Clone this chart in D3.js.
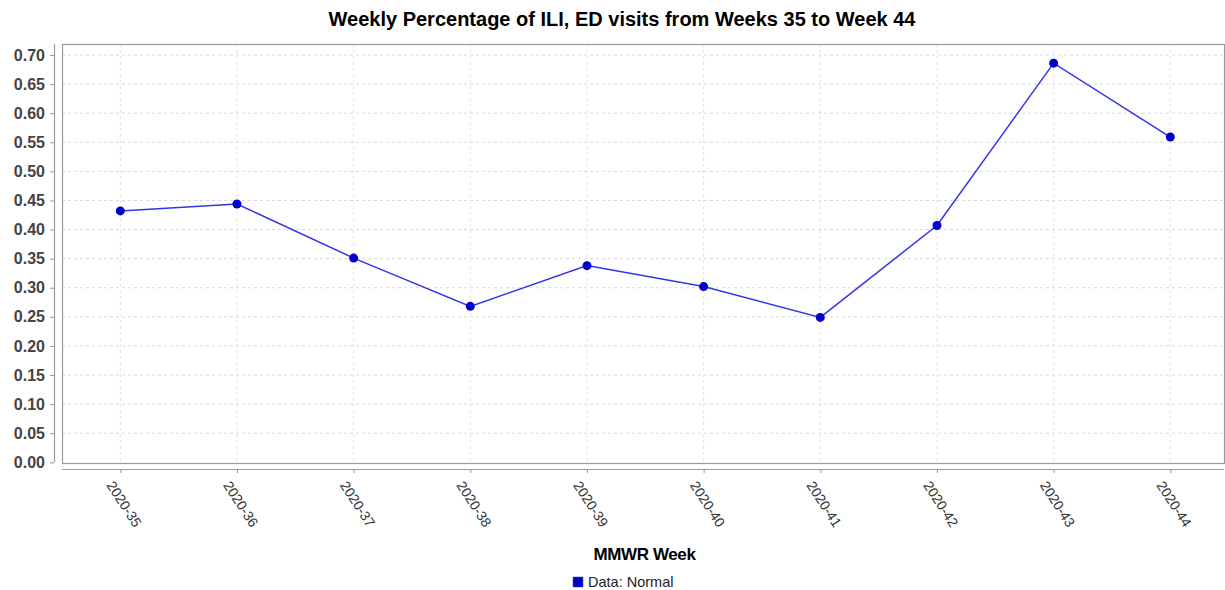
<!DOCTYPE html>
<html>
<head>
<meta charset="utf-8">
<script src="https://cdn.jsdelivr.net/npm/d3@7"></script>
<style>
  html, body { margin: 0; padding: 0; background: #fff; }
  svg { display: block; }
</style>
</head>
<body>
<svg id="chart" width="1225" height="590"></svg>
<script>
const title = "Weekly Percentage of ILI, ED visits from Weeks 35 to Week 44";
const xAxisTitle = "MMWR Week";
const legendLabel = "Data: Normal";
const weeks = ["2020-35","2020-36","2020-37","2020-38","2020-39","2020-40","2020-41","2020-42","2020-43","2020-44"];
const values = [0.432, 0.444, 0.351, 0.268, 0.338, 0.302, 0.249, 0.407, 0.686, 0.559];
const yTicks = [0.00,0.05,0.10,0.15,0.20,0.25,0.30,0.35,0.40,0.45,0.50,0.55,0.60,0.65,0.70];

const svg = d3.select("#chart");
const plot = {left: 62, right: 1224, top: 44, bottom: 463};

const x = d3.scalePoint().domain(weeks).range([120.3, 1170.3]);
const y = d3.scaleLinear().domain([0, 0.70]).range([462.3, 55]);

const font = "'Liberation Sans', Arial, sans-serif";

// Title
svg.append("text")
  .attr("x", 622).attr("y", 26)
  .attr("text-anchor", "middle")
  .style("font-family", font).style("font-weight", "bold").style("font-size", "20px")
  .attr("fill", "#000")
  .text(title);

// Grid lines
const grid = svg.append("g");
grid.selectAll("line.h").data(yTicks.slice(1)).join("line")
  .attr("x1", plot.left).attr("x2", plot.right)
  .attr("y1", d => y(d)).attr("y2", d => y(d))
  .attr("stroke", "#d8d8d8").attr("stroke-width", 1).attr("stroke-dasharray", "3,3");
grid.selectAll("line.v").data(weeks).join("line")
  .attr("x1", d => x(d)).attr("x2", d => x(d))
  .attr("y1", plot.top).attr("y2", plot.bottom)
  .attr("stroke", "#e3e3e3").attr("stroke-width", 1).attr("stroke-dasharray", "3,3");

// Plot border
svg.append("rect")
  .attr("x", plot.left + 0.5).attr("y", plot.top + 0.5)
  .attr("width", plot.right - plot.left).attr("height", plot.bottom - plot.top)
  .attr("fill", "none").attr("stroke", "#9a9a9a").attr("stroke-width", 1.2);

// Y axis
const yAxis = d3.axisLeft(y).tickValues(yTicks).tickFormat(d3.format(".2f")).tickSizeOuter(0).tickSize(4).tickPadding(5);
const yg = svg.append("g").attr("transform", "translate(54,0)").call(yAxis);
yg.select(".domain").attr("stroke", "#9a9a9a").attr("stroke-width", 1.2)
  .attr("d", `M0.5,${plot.top}V${plot.bottom - 1}`);
yg.selectAll(".tick line").attr("stroke", "#9a9a9a");
yg.selectAll(".tick text")
  .style("font-family", font).style("font-weight", "bold").style("font-size", "16px")
  .attr("fill", "#444");

// X axis
const xAxis = d3.axisBottom(x).tickSize(4).tickSizeOuter(0).tickFormat("");
const xg = svg.append("g").attr("transform", "translate(0,469)").call(xAxis);
xg.select(".domain").attr("stroke", "#9a9a9a").attr("stroke-width", 1.2)
  .attr("d", `M${plot.left},0.5H${plot.right}`);
xg.selectAll(".tick line").attr("stroke", "#9a9a9a");

// Rotated x labels
svg.append("g").selectAll("text").data(weeks).join("text")
  .attr("transform", d => `translate(${x(d) + 4},504) rotate(57)`)
  .attr("text-anchor", "middle").attr("dominant-baseline", "central")
  .style("font-family", font).style("font-size", "14px")
  .attr("fill", "#333")
  .text(d => d);

// Line
const line = d3.line().x((d, i) => x(weeks[i])).y(d => y(d));
svg.append("path").datum(values)
  .attr("d", line)
  .attr("fill", "none").attr("stroke", "#3333ee").attr("stroke-width", 1.5);

// Points
svg.append("g").selectAll("circle").data(values).join("circle")
  .attr("cx", (d, i) => x(weeks[i])).attr("cy", d => y(d))
  .attr("r", 4.5).attr("fill", "#0000cc");

// X axis title
svg.append("text")
  .attr("x", 644.5).attr("y", 560)
  .attr("text-anchor", "middle")
  .style("font-family", font).style("font-weight", "bold").style("font-size", "17px")
  .style("letter-spacing", "-0.4px")
  .attr("fill", "#000")
  .text(xAxisTitle);

// Legend
svg.append("rect")
  .attr("x", 573).attr("y", 577).attr("width", 10).attr("height", 10)
  .attr("fill", "#0000cc").attr("stroke", "#4444aa").attr("stroke-width", 0.5);
svg.append("text")
  .attr("x", 588).attr("y", 587)
  .style("font-family", font).style("font-size", "14.5px")
  .attr("fill", "#222")
  .text(legendLabel);
</script>
</body>
</html>
